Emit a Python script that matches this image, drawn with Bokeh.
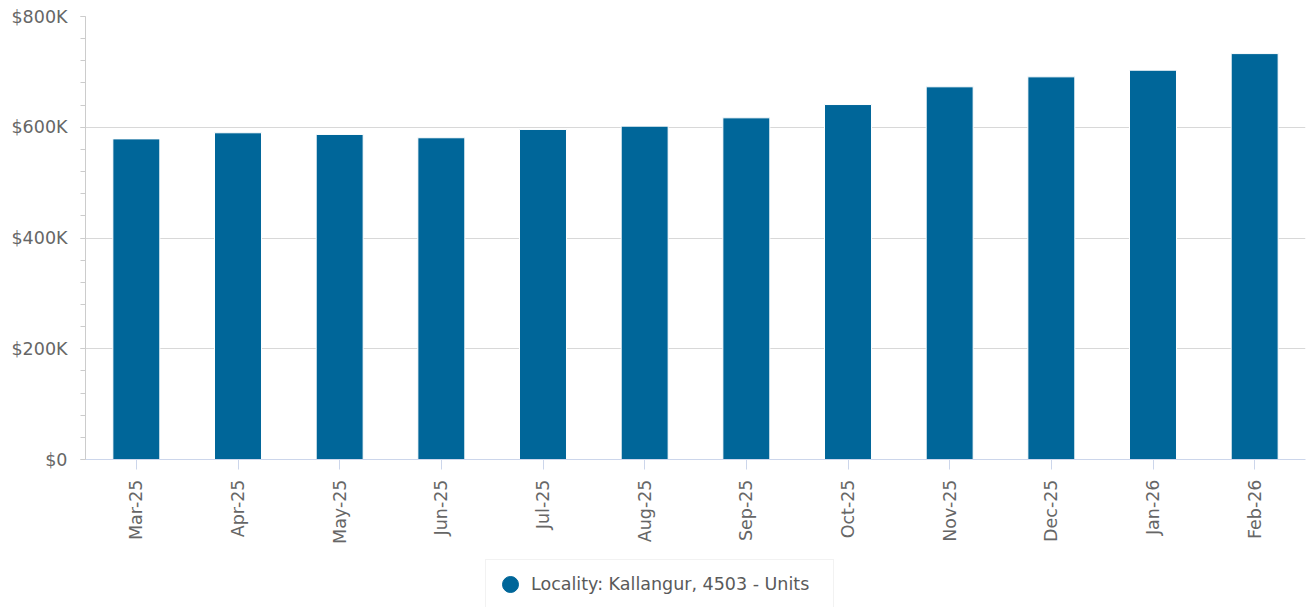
from bokeh.plotting import figure
from bokeh.layouts import column
from bokeh.models import (ColumnDataSource, FactorRange, Range1d, FixedTicker,
                          CustomJSTickFormatter, Legend, LegendItem)
from bokeh.embed import file_html
from bokeh.resources import INLINE

months = ["Mar-25", "Apr-25", "May-25", "Jun-25", "Jul-25", "Aug-25",
          "Sep-25", "Oct-25", "Nov-25", "Dec-25", "Jan-26", "Feb-26"]
values = [579000, 590000, 587000, 581000, 596000, 602000,
          617000, 641000, 673000, 691000, 703000, 733000]
series_name = "Locality: Kallangur, 4503 - Units"
y_ticks = [0, 200000, 400000, 600000, 800000]
y_minor = [i * 40000 for i in range(21)]

FONT = "DejaVu Sans"
BAR = "#006699"
FS = "17.5px"

src = ColumnDataSource(dict(month=months, value=values))

p = figure(x_range=FactorRange(*months, range_padding=0),
           y_range=Range1d(0, 800000),
           frame_width=1220, frame_height=443,
           min_border_left=85, min_border_right=3, min_border_top=16,
           min_border_bottom=90,
           output_backend="svg", toolbar_location=None)

p.outline_line_color = None
p.background_fill_color = "white"

bars = p.vbar(x="month", top="value", width=0.462, source=src,
              fill_color=BAR, line_color="white", line_width=1)

# y axis
p.yaxis.ticker = FixedTicker(ticks=y_ticks, minor_ticks=y_minor)
p.yaxis.formatter = CustomJSTickFormatter(code="""
    return tick == 0 ? "$0" : "$" + (tick/1000).toFixed(0) + "K";
""")
p.yaxis.axis_line_color = "#cccccc"
p.yaxis.major_tick_line_color = "#cccccc"
p.yaxis.minor_tick_line_color = "#cccccc"
p.yaxis.major_tick_out = 5
p.yaxis.major_tick_in = 0
p.yaxis.minor_tick_out = 5
p.yaxis.minor_tick_in = 0
p.yaxis.major_label_text_font = FONT
p.yaxis.major_label_text_font_size = FS
p.yaxis.major_label_text_color = "#666666"
p.yaxis.major_label_standoff = 13

p.ygrid.grid_line_color = "#d8d8d8"
p.xgrid.grid_line_color = None

# x axis
p.xaxis.axis_line_color = "#ccd6eb"
p.xaxis.major_tick_line_color = "#ccd6eb"
p.xaxis.major_tick_out = 10
p.xaxis.major_tick_in = 0
p.xaxis.minor_tick_line_color = None
p.xaxis.major_label_orientation = 1.5707963
p.xaxis.major_label_text_font = FONT
p.xaxis.major_label_text_font_size = FS
p.xaxis.major_label_text_color = "#666666"
p.xaxis.major_label_standoff = 10

# legend strip
lg = figure(width=1308, height=58, min_border=0,
            x_axis_location=None, y_axis_location=None,
            output_backend="svg", toolbar_location=None)
lg.outline_line_color = None
lg.grid.grid_line_color = None
legend_src = ColumnDataSource(dict(x=[0.0], y=[float("nan")]))
dot = lg.scatter(x="x", y="y", source=legend_src, marker="circle",
                 fill_color=BAR, line_color=BAR)

legend = Legend(items=[LegendItem(label=series_name, renderers=[dot], index=0)],
                orientation="horizontal",
                location=(400, -2),
                border_line_color="#e6e6e6",
                background_fill_color="white",
                label_text_font=FONT, label_text_font_size=FS,
                label_text_color="#5a5a5a",
                glyph_width=40, glyph_height=40,
                label_width=298,
                padding=4, label_standoff=1, margin=0)
lg.add_layout(legend)

layout = column(p, lg, spacing=0)
open("out.html", "w").write(file_html(layout, INLINE))
